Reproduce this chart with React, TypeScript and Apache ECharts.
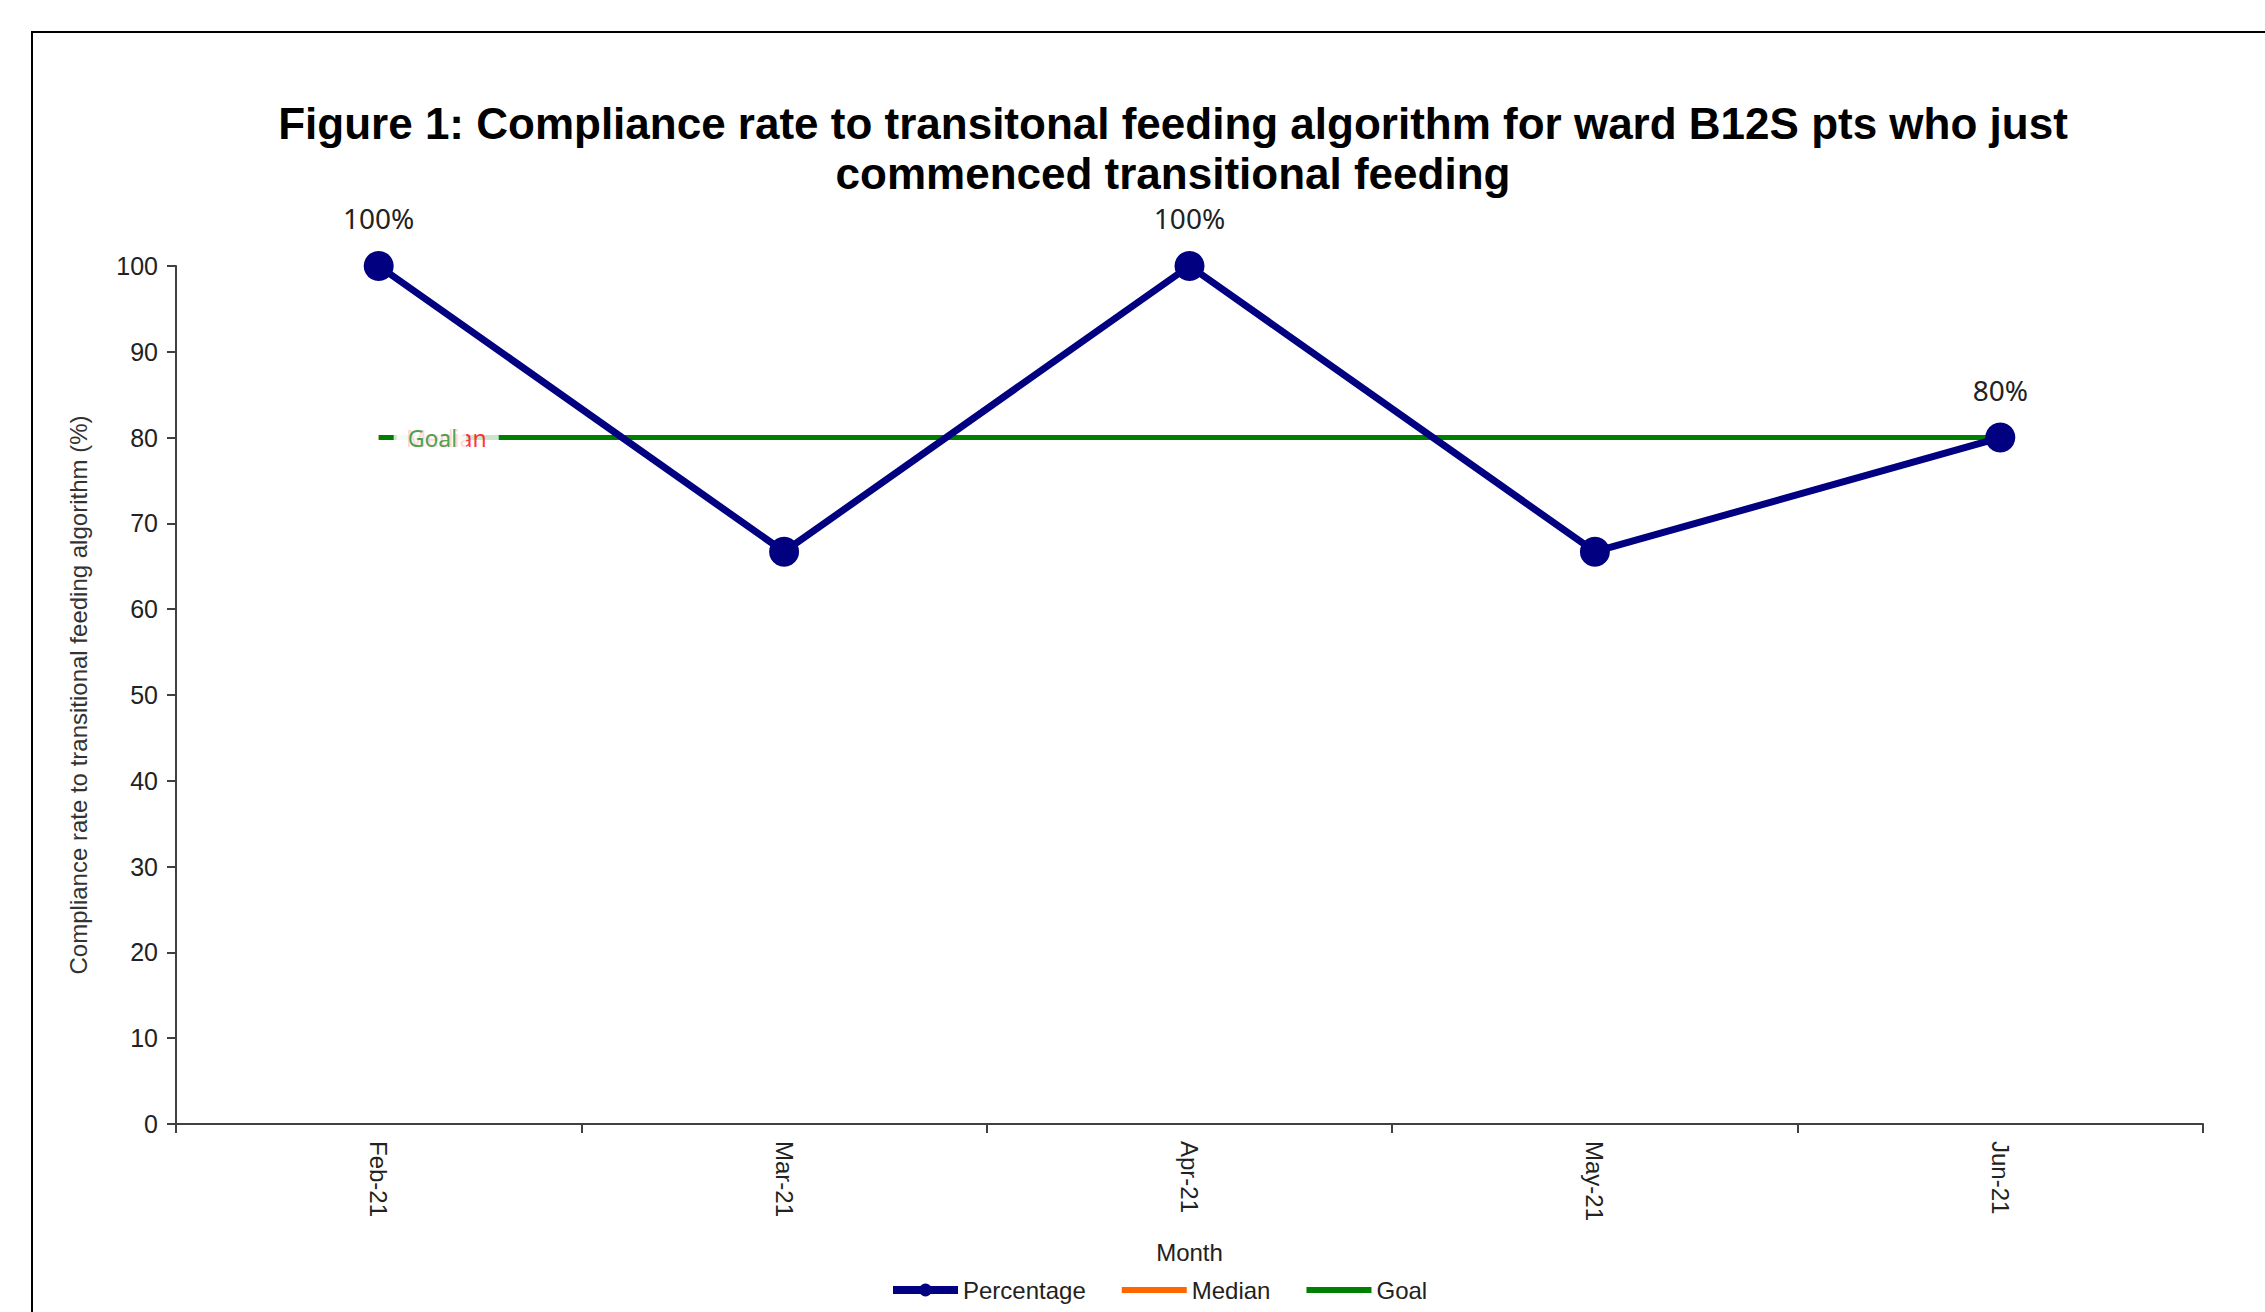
import React, { useEffect, useRef } from 'react';
import * as echarts from 'echarts';

const titleLines = [
  'Figure 1: Compliance rate to transitonal feeding algorithm for ward B12S pts who just',
  'commenced transitional feeding',
];
const categories = ['Feb-21', 'Mar-21', 'Apr-21', 'May-21', 'Jun-21'];
const percentage = [100, 66.7, 100, 66.7, 80];
const median = [80, 80, 80, 80, 80];
const goal = [80, 80, 80, 80, 80];
const labelShown = [true, false, true, false, true];
const yMin = 0;
const yMax = 100;
const yInterval = 10;
const yAxisName = 'Compliance rate to transitional feeding algorithm (%)';
const xAxisName = 'Month';

const AX = '"Liberation Sans", Arial, sans-serif';
const LB = '"Noto Sans", "Open Sans", sans-serif';

function buildOption() {
  const axisColor = '#404040';
  return {
    animation: false,
    backgroundColor: '#ffffff',
    graphic: [
      {
        type: 'rect',
        silent: true,
        shape: { x: 32, y: 32, width: 2400, height: 1400 },
        style: { fill: 'none', stroke: '#000', lineWidth: 2 },
      },
      {
        type: 'text',
        silent: true,
        x: 1173,
        y: 148,
        style: {
          text: titleLines.join('\n'),
          fontSize: 44,
          fontWeight: 'bold',
          fontFamily: AX,
          align: 'center',
          verticalAlign: 'middle',
          lineHeight: 50,
          fill: '#000',
        },
      },
    ],
    grid: { left: 176, right: 62, top: 266, bottom: 188, containLabel: false },
    legend: {
      left: 884,
      top: 1273,
      itemWidth: 65,
      itemHeight: 16,
      itemGap: 33,
      textStyle: { fontSize: 24, fontFamily: AX, color: '#222' },
      data: [
        { name: 'Percentage', lineStyle: { width: 8 } },
        { name: 'Median', lineStyle: { width: 6 }, itemStyle: { opacity: 0 } },
        { name: 'Goal', lineStyle: { width: 6 }, itemStyle: { opacity: 0 } },
      ],
    },
    xAxis: {
      type: 'category',
      data: categories,
      boundaryGap: true,
      name: xAxisName,
      nameLocation: 'middle',
      nameGap: 116,
      nameTextStyle: { fontSize: 24, fontFamily: AX, color: '#222' },
      axisLine: { show: true, lineStyle: { color: axisColor, width: 2 } },
      axisTick: { show: true, length: 9, lineStyle: { color: axisColor, width: 2 } },
      axisLabel: { rotate: -90, margin: 17, fontSize: 24, fontFamily: AX, color: '#222' },
      splitLine: { show: false },
    },
    yAxis: {
      type: 'value',
      min: yMin,
      max: yMax,
      interval: yInterval,
      name: yAxisName,
      nameLocation: 'middle',
      nameGap: 86,
      nameTextStyle: { fontSize: 24, fontFamily: AX, color: '#333' },
      axisLine: { show: true, lineStyle: { color: axisColor, width: 2 } },
      axisTick: { show: true, length: 9, lineStyle: { color: axisColor, width: 2 } },
      axisLabel: { margin: 18, fontSize: 25, fontFamily: AX, color: '#222' },
      splitLine: { show: false },
    },
    series: [
      {
        name: 'Median',
        type: 'line',
        z: 1,
        symbol: 'none',
        lineStyle: { color: '#FF6600', width: 5 },
        itemStyle: { color: '#FF6600' },
        data: median,
      },
      {
        name: 'Goal',
        type: 'line',
        z: 2,
        symbol: 'none',
        lineStyle: { color: '#008000', width: 5 },
        itemStyle: { color: '#008000' },
        data: goal,
      },
      {
        name: 'Percentage',
        type: 'line',
        z: 4,
        symbol: 'circle',
        symbolSize: 30,
        lineStyle: { color: '#000080', width: 7 },
        itemStyle: { color: '#000080' },
        label: {
          show: true,
          position: 'top',
          distance: 19,
          fontSize: 28,
          fontFamily: LB,
          color: '#222',
          formatter: (p: any) => `${p.value}%`,
        },
        data: percentage.map((v, i) => ({ value: v, label: { show: labelShown[i] } })),
      },
      {
        name: 'Median label',
        type: 'scatter',
        z: 5,
        symbol: 'circle',
        symbolSize: 0,
        silent: true,
        itemStyle: { color: 'rgba(0,0,0,0)' },
        label: {
          show: true,
          position: 'right',
          distance: 15,
          formatter: 'Median',
          color: '#FF0000',
          backgroundColor: '#ffffff',
          padding: [3, 12, 3, 12],
          fontSize: 23,
          fontFamily: LB,
        },
        data: [[0, median[0]]],
      },
      {
        name: 'Goal label',
        type: 'scatter',
        z: 6,
        symbol: 'circle',
        symbolSize: 0,
        silent: true,
        itemStyle: { color: 'rgba(0,0,0,0)' },
        label: {
          show: true,
          position: 'right',
          distance: 18,
          formatter: 'Goal',
          color: '#1E8C1E',
          backgroundColor: '#ffffff',
          padding: [3, 9, 3, 11],
          fontSize: 23,
          fontFamily: LB,
        },
        data: [[0, goal[0]]],
      },
    ],
  };
}

export default function App() {
  const ref = useRef<HTMLDivElement>(null);
  useEffect(() => {
    if (!ref.current) return;
    const chart = echarts.init(ref.current, null, { renderer: 'svg' });
    chart.setOption(buildOption() as any);
    return () => chart.dispose();
  }, []);
  return (
    <div
      ref={ref}
      style={{ position: 'fixed', left: 0, top: 0, width: 2265, height: 1312, background: '#fff' }}
    />
  );
}
